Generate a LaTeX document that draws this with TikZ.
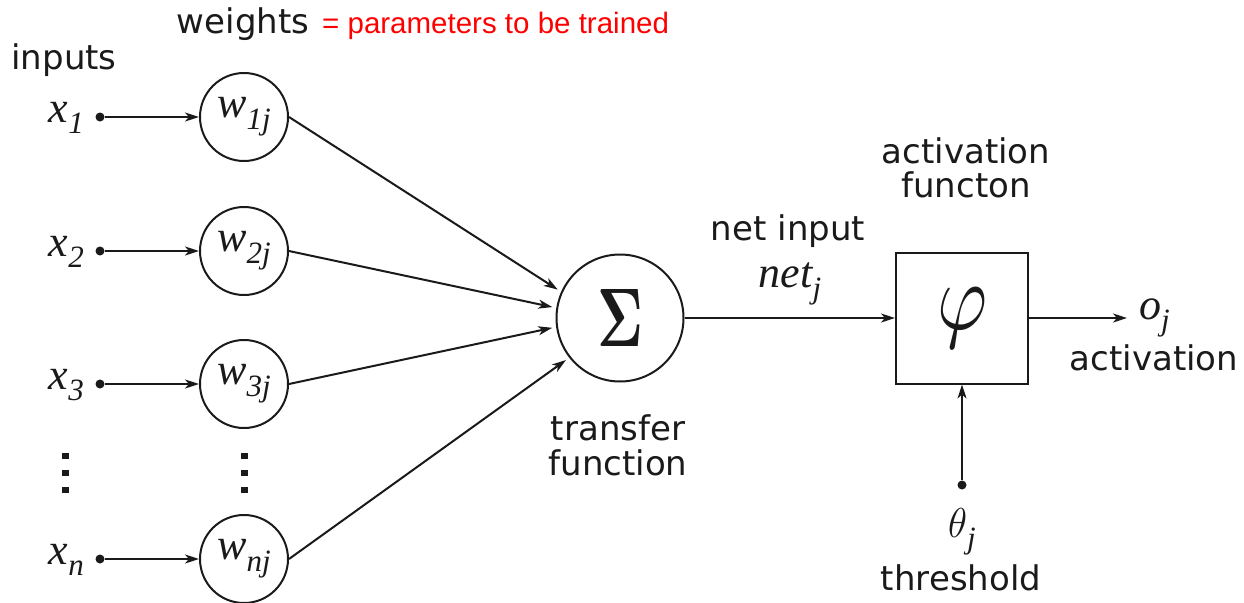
\documentclass[tikz,border=0pt]{standalone}
\usepackage{fontspec}
\usepackage{graphicx}
\usetikzlibrary{arrows.meta}
\newfontfamily\lblfont{DejaVu Sans}
\newfontfamily\tmsfont{Liberation Serif}
\newfontfamily\arlfont{Liberation Sans}
\newcommand\mvar[2]{{\tmsfont\itshape #1\raisebox{-0.27em}{\fontsize{31}{33}\selectfont #2}}}
\definecolor{ink}{HTML}{1A1A1A}
\definecolor{redtxt}{HTML}{FF0000}
\begin{document}
\begin{tikzpicture}[x=1pt,y=-1pt,
  lbl/.style={font=\lblfont\fontsize{34}{38}\selectfont, text=ink, inner sep=0pt, anchor=base},
  mth/.style={font=\fontsize{44}{48}\selectfont, text=ink, inner sep=0pt},
  wnode/.style={circle, draw=ink, line width=2pt, minimum size=88pt, inner sep=0pt, text=ink, font=\fontsize{44}{48}\selectfont},
  indot/.style={circle, fill=ink, minimum size=9pt, inner sep=0pt},
  conn/.style={draw=ink, line width=2pt, -{Stealth[length=14pt,width=9pt,inset=4pt]}},
  vdot/.style={fill=ink},
]
\fill[white] (0,0) rectangle (1244,602);
\useasboundingbox (0,0) rectangle (1244,602);

% inputs
\node[indot] (i1) at (100,117) {};
\node[indot] (i2) at (100,251) {};
\node[indot] (i3) at (100,384) {};
\node[indot] (i4) at (100,559) {};
\node[mth, anchor=base east] (l1) at (84,122) {\mvar{x}{1}};
\node[mth, anchor=base east] (l2) at (84,256) {\mvar{x}{2}};
\node[mth, anchor=base east] (l3) at (84,389) {\mvar{x}{3}};
\node[mth, anchor=base east] (l4) at (84,564) {\mvar{x}{n}};

% weights
\node[wnode] (w1) at (244,117) {\mvar{w}{1j}};
\node[wnode] (w2) at (244,251) {\mvar{w}{2j}};
\node[wnode] (w3) at (244,384) {\mvar{w}{3j}};
\node[wnode] (w4) at (244,559) {\mvar{w}{nj}};

% vertical ellipses
\foreach \yy in {453,470,487} {
  \fill[vdot] (62,\yy) rectangle ++(7,6);
  \fill[vdot] (241,\yy) rectangle ++(7,6);
}

% sum and activation
\node[circle, draw=ink, line width=2pt, minimum size=127pt, inner sep=0pt, text=ink] (sum) at (620,318) {\resizebox*{46pt}{57pt}{\boldmath$\Sigma$}};
\node[draw=ink, line width=2pt, minimum width=132pt, minimum height=131pt, inner sep=0pt, text=ink] (phi) at (962,318) {\resizebox*{50pt}{60pt}{$\varphi$}};
\coordinate (oe) at (1127,318);
\node[indot] (th) at (962,485) {};

% labels
\node[lbl] (tw) at (243,34) {weights};
\node[font=\arlfont\fontsize{29.5}{32}\selectfont, text=redtxt, anchor=base west, inner sep=0pt] (tp) at (322,34) {= parameters to be trained};
\node[lbl] (tin) at (64,70) {inputs};
\node[lbl] (ta1) at (966,163) {activation};
\node[lbl] (ta2) at (966,197) {functon};
\node[lbl] (tni) at (788,240) {net input};
\node[mth, anchor=base] (tnet) at (790,287) {\mvar{net}{j}};
\node[mth, anchor=base west] (toj) at (1139,319) {\mvar{o}{j}};
\node[lbl] (tact) at (1154,370) {activation};
\node[lbl] (ttr) at (618,440) {transfer};
\node[lbl] (tfn) at (618,475) {function};
\node[mth, anchor=base] (tth) at (962,537) {\mvar{\resizebox*{19pt}{29pt}{$\theta$}}{j}};
\node[lbl] (tthr) at (961,590) {threshold};

% connectors
\draw[conn] (i1) -- (w1);
\draw[conn] (i2) -- (w2);
\draw[conn] (i3) -- (w3);
\draw[conn] (i4) -- (w4);
\draw[conn, shorten >=4pt] (w1.east) -- (sum.156);
\draw[conn, shorten >=4pt] (w2.east) -- (sum.171);
\draw[conn, shorten >=4pt] (w3.east) -- (sum.188);
\draw[conn, shorten >=4pt] (w4.east) -- (sum.218);
\draw[conn] (sum) -- (phi);
\draw[conn] (phi) -- (oe);
\draw[conn] (th) -- (phi);
\end{tikzpicture}
\end{document}
